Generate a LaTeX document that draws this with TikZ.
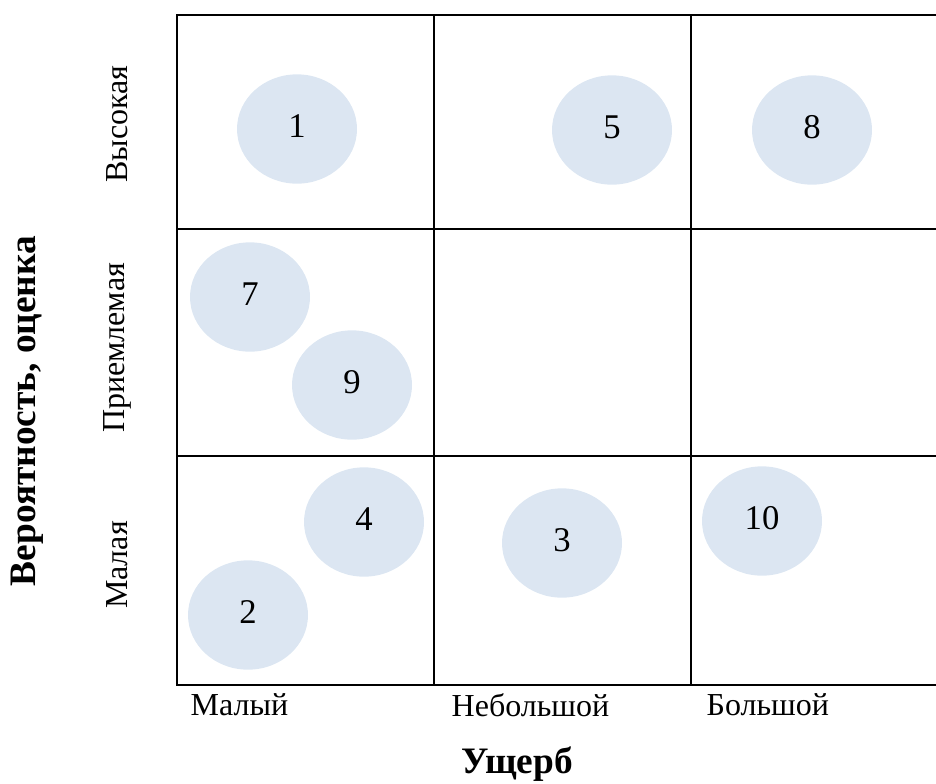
\documentclass[tikz,border=0pt]{standalone}
\usepackage{fontspec}
\setmainfont{Liberation Serif}
\usetikzlibrary{shapes.geometric}
\definecolor{riskfill}{HTML}{DCE6F2}

\begin{document}
\begin{tikzpicture}[x=0.75pt,y=-0.75pt,
          gridline/.style={line width=1.5pt},
          risk/.style={ellipse,fill=riskfill,minimum width=90pt,minimum height=82pt,
                       inner sep=0pt,text depth=5pt,font=\fontsize{26}{30}\selectfont},
          axis/.style={font=\fontsize{24}{28}\selectfont},
          axistitle/.style={font=\fontsize{28}{32}\selectfont\bfseries}]
        \useasboundingbox (0,0) rectangle (936,783);
        % matrix cells
        \draw[gridline] (936,15) -- (177,15) -- (177,685) -- (936,685);
        \draw[gridline] (434,15) -- (434,685);
        \draw[gridline] (691,15) -- (691,685);
        \draw[gridline] (177,229) -- (936,229);
        \draw[gridline] (177,456) -- (936,456);
        % risks
        \node[risk] (r1) at (297,129) {1};
        \node[risk] (r5) at (612,130) {5};
        \node[risk] (r8) at (812,130) {8};
        \node[risk] (r7) at (250,297) {7};
        \node[risk] (r9) at (352,385) {9};
        \node[risk] (r4) at (364,522) {4};
        \node[risk] (r3) at (562,543) {3};
        \node[risk] (r10) at (762,521) {10};
        \node[risk] (r2) at (248,615) {2};
        % axes
        \node[axis,anchor=west] (dmglow) at (186,705) {Малый};
        \node[axis,anchor=west] (dmgmid) at (447,705) {Небольшой};
        \node[axis,anchor=west] (dmghigh) at (702,705) {Большой};
        \node[axistitle] (dmg) at (517,764) {Ущерб};
        \node[axis,rotate=90] (plow) at (117,565) {Малая};
        \node[axis,rotate=90] (pmid) at (117,348) {Приемлемая};
        \node[axis,rotate=90] (phigh) at (117,124) {Высокая};
        \node[axistitle,rotate=90] (prob) at (27,411) {Вероятность, оценка};
      \end{tikzpicture}
\end{document}
